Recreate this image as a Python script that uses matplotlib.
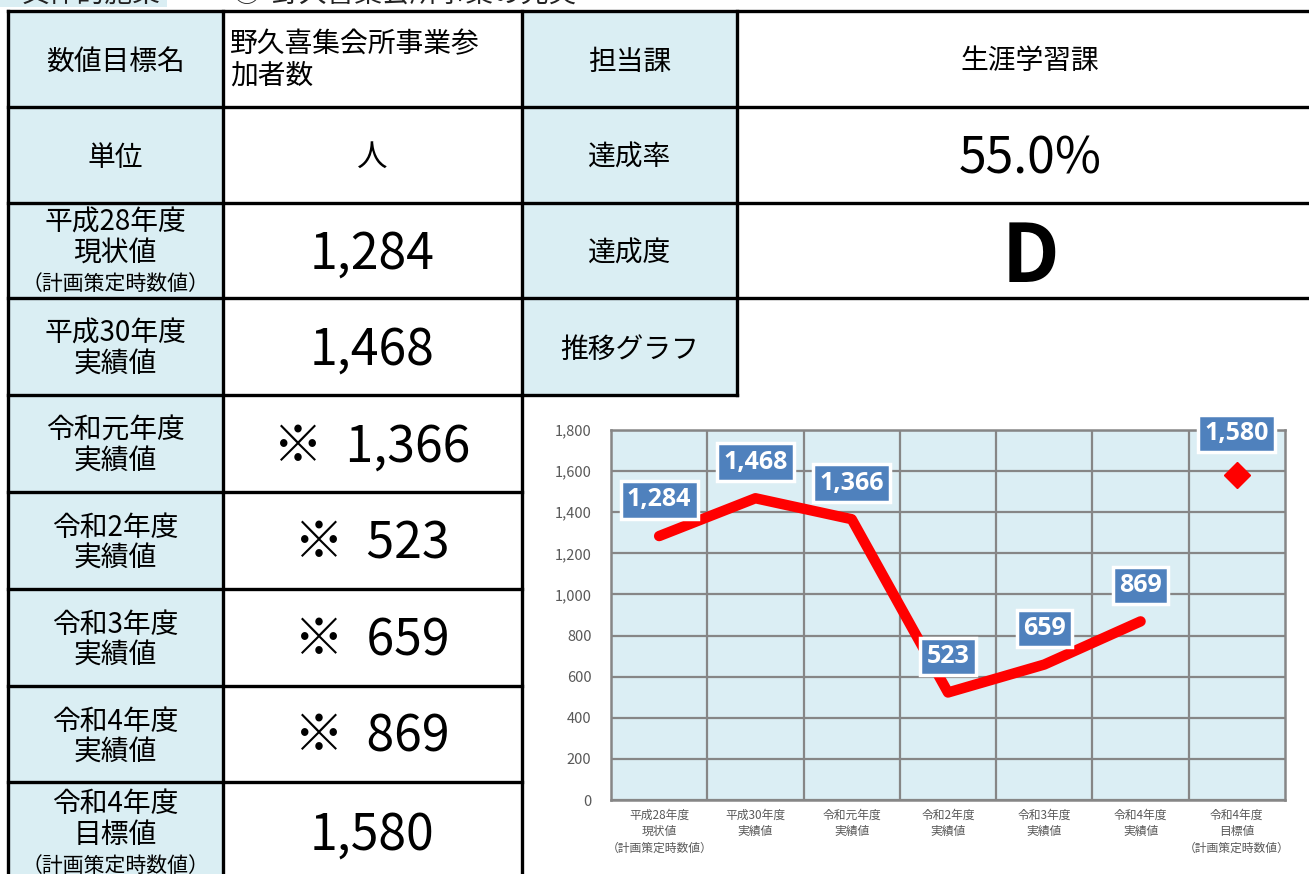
import matplotlib.pyplot as plt
from matplotlib.patches import Rectangle

plt.rcParams['font.family'] = ['Noto Sans CJK JP', 'DejaVu Sans']

# 表の左側（項目名と値）
row_labels = [['数値目標名'], ['単位'], ['平成28年度', '現状値', '（計画策定時数値）'],
              ['平成30年度', '実績値'], ['令和元年度', '実績値'], ['令和2年度', '実績値'],
              ['令和3年度', '実績値'], ['令和4年度', '実績値'],
              ['令和4年度', '目標値', '（計画策定時数値）']]
row_values = ['野久喜集会所事業参\n加者数', '人', '1,284', '1,468', '※  1,366',
              '※  523', '※  659', '※  869', '1,580']

# 表の右側
right_labels = ['担当課', '達成率', '達成度', '推移グラフ']
right_values = ['生涯学習課', '55.0%', 'D', '']

# グラフのデータ
categories = ['平成28年度\n現状値\n（計画策定時数値）', '平成30年度\n実績値', '令和元年度\n実績値',
              '令和2年度\n実績値', '令和3年度\n実績値', '令和4年度\n実績値',
              '令和4年度\n目標値\n（計画策定時数値）']
actual = [1284, 1468, 1366, 523, 659, 869]
target = 1580

W, H = 1309, 874
fig = plt.figure(figsize=(W / 100, H / 100), dpi=100)
bg = fig.add_axes([0, 0, 1, 1])
bg.set_xlim(0, W)
bg.set_ylim(H, 0)
bg.axis('off')

blue = '#DAEEF3'
rows = [11, 107, 203, 298, 395, 492, 589, 686, 782, 900]
cols = [8, 223, 522, 737, 1320]

# 上の見出し（上端で切れている）
bg.add_patch(Rectangle((0, -30), 167, 37, fc=blue, ec='none'))
bg.text(22, 2, '具体的施策', fontsize=20, va='baseline', color='#222222')
bg.text(232, 2, '⑤', fontsize=20, va='baseline', color='#222222')
bg.text(272, 2, '野久喜集会所事業の充実', fontsize=20, va='baseline', color='#222222')

# 左の表
for i in range(len(row_labels)):
    y0, y1 = rows[i], rows[i + 1]
    bg.add_patch(Rectangle((cols[0], y0), cols[1] - cols[0], y1 - y0, fc=blue, ec='none'))
    lines = row_labels[i]
    if i == 8:
        yc = 832
    else:
        yc = (y0 + y1) / 2
    n = len(lines)
    for k, t in enumerate(lines):
        yy = yc + (k - (n - 1) / 2) * 31 + 3
        fs = 15 if t.startswith('（') else 20
        bg.text(115, yy, t, fontsize=fs, ha='center', va='center')
    v = row_values[i]
    if i == 0:
        bg.text(230, 60, v, fontsize=20, ha='left', va='center', linespacing=1.05)
    elif i == 1:
        bg.text(372, (y0 + y1) / 2 + 2, v, fontsize=22, ha='center', va='center')
    else:
        bg.text(372, yc + 4, v, fontsize=36, ha='center', va='center')

# 右の表
for i in range(4):
    y0, y1 = rows[i], rows[i + 1]
    bg.add_patch(Rectangle((cols[2], y0), cols[3] - cols[2], y1 - y0, fc=blue, ec='none'))
    bg.text(630, (y0 + y1) / 2 + 3, right_labels[i], fontsize=20, ha='center', va='center')
bg.text(1030, 61, right_values[0], fontsize=20, ha='center', va='center')
bg.text(1030, 159, right_values[1], fontsize=36, ha='center', va='center')
bg.text(1030, 259, right_values[2], fontsize=58, ha='center', va='center', fontweight='bold')

# 罫線
lw = 2.4
for y in rows[:4]:
    bg.plot([cols[0], W], [y, y], color='black', lw=lw)
for y in rows[4:9]:
    bg.plot([cols[0], cols[2]], [y, y], color='black', lw=lw)
bg.plot([cols[2], cols[3]], [395, 395], color='black', lw=lw)
bg.plot([cols[0], cols[0]], [11, H], color='black', lw=lw)
bg.plot([cols[1], cols[1]], [11, H], color='black', lw=lw)
bg.plot([cols[2], cols[2]], [11, H], color='black', lw=lw)
bg.plot([cols[3], cols[3]], [11, 395], color='black', lw=lw)

# 推移グラフ
ax = fig.add_axes([611 / W, (H - 800) / H, (1285 - 611) / W, 370 / H])
ax.set_facecolor('#DBEEF4')
x = list(range(len(actual)))
ax.plot(x, actual, color='#FF0000', lw=7.5, solid_capstyle='round', solid_joinstyle='round', zorder=3)
ax.plot([6], [target], marker='D', ms=13, color='#FF0000', lw=0, zorder=3)

box = dict(boxstyle='square,pad=0.25', fc='#4F81BD', ec='white', lw=2.5)
for i, v in enumerate(actual):
    ax.annotate(f'{v:,}', (i, v), xytext=(0, 26), textcoords='offset points', ha='center', va='center',
                fontsize=18, fontweight='bold', color='white', family='Open Sans', bbox=box,
                annotation_clip=False, zorder=5)
ax.annotate(f'{target:,}', (6, target), xytext=(0, 30), textcoords='offset points', ha='center',
            va='center', fontsize=18, fontweight='bold', color='white', family='Open Sans', bbox=box,
            annotation_clip=False, zorder=5)

ax.set_xlim(-0.5, 6.5)
ax.set_ylim(0, 1800)
ax.set_yticks(range(0, 1801, 200))
ax.set_yticklabels([f'{v:,}' for v in range(0, 1801, 200)])
ax.set_xticks(range(7))
ax.set_xticklabels(categories, fontsize=8.5, linespacing=1.35)
ax.set_xticks([i + 0.5 for i in range(6)], minor=True)
ax.tick_params(axis='y', length=0, pad=14, labelsize=10.5, labelcolor='#595959')
ax.tick_params(axis='x', which='both', length=0, pad=6, labelcolor='#595959')
ax.grid(True, which='major', axis='y', color='#868686', lw=1.6)
ax.grid(True, which='minor', axis='x', color='#868686', lw=1.6)
ax.set_axisbelow(True)
for s in ax.spines.values():
    s.set_color('#868686')
    s.set_linewidth(1.8)

fig.savefig('out.png', dpi=100)
